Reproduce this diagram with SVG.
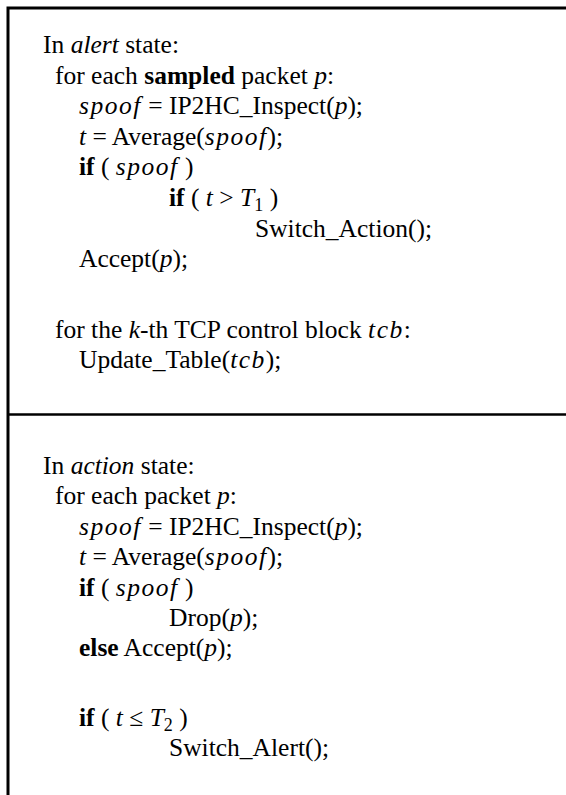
<svg xmlns="http://www.w3.org/2000/svg" width="566" height="795" viewBox="0 0 566 795">
<style>
text{font-family:"Liberation Serif","Times New Roman",serif;font-size:25.5px;fill:#000}
.i{font-style:italic}
.m{font-style:italic;letter-spacing:1.5px}
.b{font-weight:bold}
.s{font-size:18px}
.frame{stroke:#000;stroke-width:3;fill:none}
</style>
<rect width="566" height="795" fill="#fff"/>
<g id="frame">
<path class="frame" d="M8,795 V8 H566"/>
<path class="frame" d="M8,414.5 H566" style="stroke-width:2.6"/>
</g>
<g id="alert">
<text x="43" y="53">In <tspan class="i">alert</tspan> state:</text>
<text x="55" y="84">for each <tspan class="b">sampled</tspan> packet <tspan class="i">p</tspan>:</text>
<text x="79" y="114"><tspan class="m">spoof</tspan> = IP2HC_Inspect(<tspan class="i">p</tspan>);</text>
<text x="79" y="145"><tspan class="i">t</tspan> = Average(<tspan class="m">spoof</tspan>);</text>
<text x="79" y="175"><tspan class="b">if</tspan> ( <tspan class="m">spoof</tspan> )</text>
<text x="169" y="206"><tspan class="b">if</tspan> ( <tspan class="i">t</tspan> &gt; <tspan class="i">T</tspan><tspan class="s" dy="5">1</tspan><tspan dy="-5"> )</tspan></text>
<text x="255" y="237">Switch_Action();</text>
<text x="79" y="267">Accept(<tspan class="i">p</tspan>);</text>
<text x="55" y="338">for the <tspan class="i">k</tspan>-th TCP control block <tspan class="m">tcb</tspan>:</text>
<text x="79" y="368">Update_Table(<tspan class="m">tcb</tspan>);</text>
</g>
<g id="action">
<text x="43" y="474">In <tspan class="i">action</tspan> state:</text>
<text x="55" y="504">for each packet <tspan class="i">p</tspan>:</text>
<text x="79" y="535"><tspan class="m">spoof</tspan> = IP2HC_Inspect(<tspan class="i">p</tspan>);</text>
<text x="79" y="565"><tspan class="i">t</tspan> = Average(<tspan class="m">spoof</tspan>);</text>
<text x="79" y="596"><tspan class="b">if</tspan> ( <tspan class="m">spoof</tspan> )</text>
<text x="169" y="626">Drop(<tspan class="i">p</tspan>);</text>
<text x="79" y="656"><tspan class="b">else</tspan> Accept(<tspan class="i">p</tspan>);</text>
<text x="79" y="726"><tspan class="b">if</tspan> ( <tspan class="i">t</tspan> ≤ <tspan class="i">T</tspan><tspan class="s" dy="5">2</tspan><tspan dy="-5"> )</tspan></text>
<text x="169" y="756">Switch_Alert();</text>
</g>
</svg>
